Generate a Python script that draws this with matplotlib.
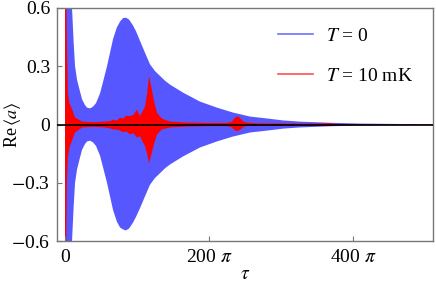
import numpy as np
import matplotlib
matplotlib.use("Agg")
import matplotlib.pyplot as plt
from matplotlib.lines import Line2D

plt.rcParams['font.family'] = ['Liberation Serif', 'DejaVu Serif']
plt.rcParams['mathtext.fontset'] = 'stix'

# envelope of Re<a> for T = 0 (tau in units of pi)
tau_blue = [0, 7, 9.7, 12, 13.9, 16.7, 20.8, 23.6, 27.8, 30.6, 34.7, 38.9, 43, 48.6,
            52.8, 58.3, 62.5, 66.7, 72, 76.4, 80.6, 84.7, 89, 94.4, 98.6, 104.2,
            111, 118, 125, 132, 139, 146, 164, 187.5, 211, 233, 257, 281, 303,
            326, 368, 410, 460, 511]
blue_upper = [0.9, 0.9, 0.6, 0.42, 0.30, 0.23, 0.17, 0.13, 0.10, 0.087, 0.083, 0.092,
              0.11, 0.16, 0.22, 0.30, 0.37, 0.44, 0.50, 0.53, 0.548, 0.55, 0.54, 0.51,
              0.48, 0.43, 0.37, 0.31, 0.275, 0.25, 0.225, 0.205, 0.164, 0.118, 0.087,
              0.062, 0.041, 0.031, 0.021, 0.015, 0.009, 0.005, 0.003, 0.002]
blue_lower = [-0.9, -0.9, -0.6, -0.42, -0.30, -0.23, -0.17, -0.13, -0.10, -0.087,
              -0.083, -0.092, -0.11, -0.16, -0.22, -0.30, -0.37, -0.44, -0.50, -0.53,
              -0.54, -0.545, -0.535, -0.505, -0.475, -0.43, -0.37, -0.31, -0.275,
              -0.25, -0.225, -0.205, -0.164, -0.118, -0.087, -0.062, -0.041, -0.031,
              -0.021, -0.015, -0.009, -0.005, -0.003, -0.002]

# envelope of Re<a> for T = 10 mK
tau_red = [0, 1.0, 2.5, 4, 6, 10, 14, 24, 40, 55, 62.5, 67, 72, 76, 80.6, 85, 90,
           95, 100, 104, 108, 111, 114, 116.7, 119.5, 123.6, 127.8, 134.7, 146,
           170, 200, 225, 232, 236, 240, 244, 248, 253, 265, 300, 340, 361, 366,
           371, 376, 400, 450, 511]
red_upper = [0.9, 0.9, 0.44, 0.16, 0.11, 0.077, 0.036, 0.015, 0.012, 0.015, 0.017,
             0.025, 0.02, 0.035, 0.03, 0.045, 0.043, 0.05, 0.077, 0.043, 0.07, 0.09,
             0.16, 0.25, 0.2, 0.12, 0.06, 0.03, 0.015, 0.01, 0.008, 0.008, 0.015,
             0.035, 0.043, 0.03, 0.015, 0.01, 0.006, 0.005, 0.004, 0.006, 0.007,
             0.005, 0.003, 0.002, 0.001, 0.001]
red_lower = [-0.9, -0.9, -0.3, -0.17, -0.12, -0.08, -0.04, -0.015, -0.012, -0.015,
             -0.02, -0.026, -0.026, -0.03, -0.04, -0.035, -0.05, -0.045, -0.067, -0.06,
             -0.09, -0.11, -0.15, -0.2, -0.16, -0.1, -0.05, -0.025, -0.015, -0.01,
             -0.008, -0.008, -0.015, -0.03, -0.034, -0.025, -0.012, -0.008, -0.006,
             -0.005, -0.004, -0.006, -0.007, -0.005, -0.003, -0.002, -0.001, -0.001]

xticks = [0, 200, 400]
xtick_labels = ['0', r'200 $\pi$', r'400 $\pi$']
yticks = [-0.6, -0.3, 0, 0.3, 0.6]
ytick_labels = [r'$-$0.6', r'$-$0.3', '0', '0.3', '0.6']

blue = '#5757ff'
red = '#ff0000'
fs = 14

fig = plt.figure(figsize=(4.36, 2.84), dpi=100)
ax = fig.add_axes([0.131, 0.151, 0.862, 0.821])

ax.fill_between(tau_blue, blue_lower, blue_upper, color=blue, lw=0)
ax.fill_between(tau_red, red_lower, red_upper, color=red, lw=0)
ax.axhline(0, color='black', lw=1.2, zorder=3)

ax.set_xlim(-11, 511)
ax.set_ylim(-0.6, 0.6)
ax.set_xticks(xticks)
ax.set_xticklabels(xtick_labels)
ax.set_yticks(yticks)
ax.set_yticklabels(ytick_labels)
ax.tick_params(direction='in', length=3.5, width=0.8, color='#777777',
               labelsize=fs, top=False, right=False)
ax.tick_params(axis='x', pad=6)
ax.tick_params(axis='y', pad=5)
for s in ax.spines.values():
    s.set_color('#777777')
    s.set_linewidth(1.0)

ax.set_xlabel(r'$\tau$', fontsize=fs, labelpad=0)
ax.set_ylabel(r'Re$\,\langle a\rangle$', fontsize=13)
ax.yaxis.set_label_coords(-0.092, 0.5)

handles = [Line2D([], [], color='#7070ff', lw=1.2),
           Line2D([], [], color='#ff5050', lw=1.2)]
ax.legend(handles, [r'$T$ = 0', r'$T$ = 10 mK'], loc='upper right', frameon=False,
          fontsize=fs, handlelength=1.8, handletextpad=0.7, labelspacing=1.15,
          borderaxespad=0.6, borderpad=0.4)

fig.savefig('out.png', dpi=100)
